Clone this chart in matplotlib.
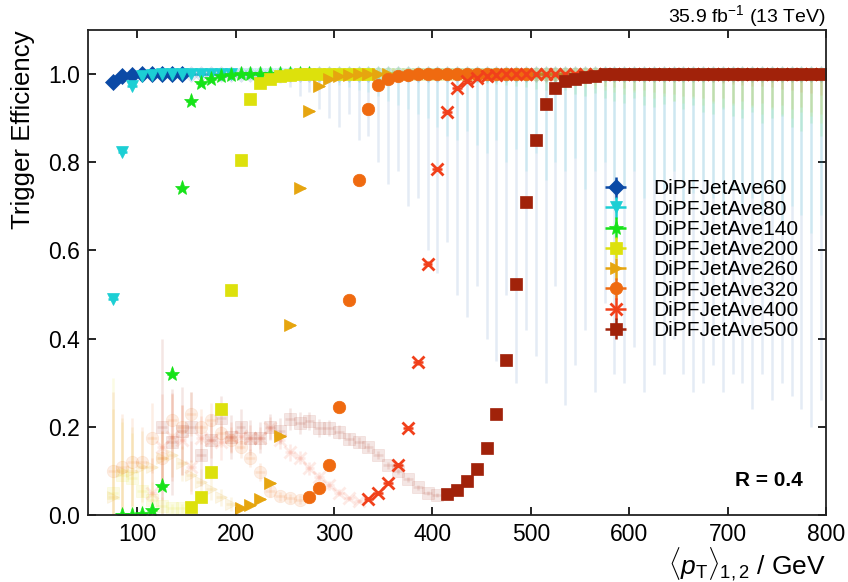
import numpy as np
import matplotlib.pyplot as plt

plt.rcParams['font.family'] = ['Liberation Sans', 'DejaVu Sans']
plt.rcParams['mathtext.fontset'] = 'custom'
plt.rcParams['mathtext.rm'] = 'Liberation Sans'
plt.rcParams['mathtext.it'] = 'Liberation Sans:italic'

# bin centres (10 GeV bins)
bins = list(range(75, 800, 10))

# ---- DiPFJetAve60 ----
x_60 = bins
eff_60 = [0.983, 0.995, 0.999] + [1.0] * 70
elo_60 = ([0.003, 0.002, 0.001, 0, 0, 0, 0, 0]
          + [0.002, 0.003, 0.004, 0.005, 0.006, 0.008, 0.01, 0.012, 0.015, 0.02,
             0.03, 0.05, 0.04, 0.08, 0.1, 0.12, 0.09, 0.15, 0.14, 0.2,
             0.25, 0.22, 0.3, 0.28, 0.4, 0.45, 0.38, 0.5, 0.55, 0.48,
             0.6, 0.65, 0.5, 0.7, 0.58, 0.64, 0.7, 0.48, 0.75, 0.66,
             0.58, 0.72, 0.52, 0.68, 0.7, 0.62, 0.72, 0.66, 0.68, 0.6,
             0.68, 0.72, 0.7, 0.66, 0.72, 0.68, 0.7, 0.76, 0.68, 0.74,
             0.7, 0.73, 0.76, 0.8, 0.74])
range_60 = (75, 145)

# ---- DiPFJetAve80 ----
x_80 = bins
eff_80 = [0.491, 0.824, 0.973, 0.995, 0.999] + [1.0] * 68
elo_80 = ([0.005, 0.004, 0.003, 0.002, 0.001, 0, 0, 0, 0, 0, 0, 0, 0]
          + [0.002, 0.003, 0.004, 0.005, 0.006, 0.008, 0.01, 0.012, 0.015, 0.02,
             0.025, 0.03, 0.035, 0.04, 0.05, 0.06, 0.07, 0.08, 0.09, 0.1,
             0.12, 0.14, 0.15, 0.13, 0.16, 0.18, 0.15, 0.2, 0.17, 0.22,
             0.18, 0.24, 0.2, 0.22, 0.19, 0.26, 0.22, 0.2, 0.24, 0.26,
             0.22, 0.28, 0.24, 0.26, 0.22, 0.3, 0.27, 0.24, 0.28, 0.32,
             0.26, 0.3, 0.28, 0.32, 0.27, 0.34, 0.3, 0.32, 0.36, 0.32])
range_80 = (75, 195)

# ---- DiPFJetAve140 ----
x_140 = bins[1:]
eff_140 = [0.0, 0.001, 0.002, 0.012, 0.066, 0.32, 0.742, 0.94, 0.98, 0.99, 0.995, 0.998] + [1.0] * 60
elo_140 = ([0.0, 0.001, 0.001, 0.002, 0.004, 0.006, 0.006, 0.004, 0.003, 0.002, 0.001, 0.001,
            0, 0, 0, 0, 0, 0, 0, 0]
           + [0.001, 0.001, 0.002, 0.002, 0.003, 0.003, 0.004, 0.005, 0.006, 0.007,
              0.008, 0.01, 0.011, 0.012, 0.014, 0.016, 0.018, 0.02, 0.022, 0.025,
              0.028, 0.03, 0.033, 0.036, 0.04, 0.035, 0.045, 0.05, 0.042, 0.055,
              0.06, 0.065, 0.055, 0.07, 0.075, 0.068, 0.06, 0.08, 0.07, 0.085,
              0.09, 0.08, 0.095, 0.1, 0.085, 0.11, 0.1, 0.095, 0.12, 0.13,
              0.11, 0.14])
range_140 = (85, 275)

# ---- DiPFJetAve200 ----
x_200 = bins
eff_200 = ([0.05, 0.09, 0.085, 0.055, 0.035, 0.02, 0.015, 0.015]
           + [0.018, 0.04, 0.097, 0.24, 0.51, 0.805, 0.943, 0.98, 0.99, 0.995, 0.998]
           + [1.0] * 54)
elo_200 = ([0.26, 0.12, 0.1, 0.06, 0.04, 0.02, 0.01, 0.01]
           + [0.002, 0.003, 0.004, 0.005, 0.006, 0.005, 0.004, 0.003, 0.002, 0.001, 0.001,
              0, 0, 0, 0, 0, 0, 0, 0]
           + [0.001, 0.001, 0.002, 0.002, 0.003, 0.003, 0.004, 0.005, 0.006, 0.007,
              0.008, 0.009, 0.01, 0.012, 0.014, 0.016, 0.018, 0.02, 0.022, 0.025,
              0.028, 0.03, 0.032, 0.035, 0.04, 0.045, 0.04, 0.05, 0.055, 0.05,
              0.06, 0.065, 0.055, 0.07, 0.065, 0.075, 0.07, 0.08, 0.075, 0.09,
              0.08, 0.09, 0.1, 0.085, 0.095, 0.11])
range_200 = (155, 335)

# ---- DiPFJetAve260 ----
x_260 = bins
eff_260 = ([0.04, 0.1, 0.1, 0.11, 0.11, 0.13, 0.136, 0.117, 0.09, 0.075, 0.06, 0.04, 0.025]
           + [0.015, 0.022, 0.036, 0.072, 0.18, 0.43, 0.742, 0.916, 0.973, 0.99, 0.995, 0.998]
           + [1.0] * 48)
elo_260 = ([0.2, 0.12, 0.1, 0.08, 0.07, 0.06, 0.05, 0.04, 0.035, 0.03, 0.025, 0.02, 0.015]
           + [0.002, 0.003, 0.003, 0.004, 0.005, 0.006, 0.005, 0.004, 0.003, 0.002, 0.001, 0.001, 0, 0, 0, 0]
           + [0.001, 0.001, 0.002, 0.002, 0.003, 0.003, 0.004, 0.004, 0.005, 0.006,
              0.007, 0.008, 0.009, 0.01, 0.012, 0.014, 0.015, 0.017, 0.02, 0.022,
              0.025, 0.027, 0.03, 0.032, 0.035, 0.037, 0.04, 0.042, 0.045, 0.05,
              0.05, 0.055, 0.06, 0.055, 0.065, 0.06, 0.07, 0.065, 0.075, 0.07,
              0.08, 0.075, 0.085, 0.09])
range_260 = (205, 355)

# ---- DiPFJetAve320 ----
x_320 = bins
eff_320 = ([0.1, 0.108, 0.12, 0.12, 0.175, 0.13, 0.215, 0.2, 0.23, 0.2,
            0.215, 0.185, 0.17, 0.155, 0.13, 0.097, 0.055, 0.042, 0.038, 0.035]
           + [0.04, 0.061, 0.113, 0.244, 0.487, 0.76, 0.921, 0.975, 0.99, 0.995, 0.998]
           + [1.0] * 42)
elo_320 = ([0.18, 0.12, 0.1, 0.08, 0.08, 0.06, 0.06, 0.05, 0.05, 0.04,
            0.04, 0.03, 0.03, 0.025, 0.02, 0.02, 0.015, 0.01, 0.01, 0.01]
           + [0.002, 0.003, 0.004, 0.005, 0.006, 0.005, 0.004, 0.003, 0.002, 0.001, 0.001] + [0] * 12
           + [0.001, 0.001, 0.002, 0.002, 0.003, 0.003, 0.004, 0.004, 0.005, 0.006,
              0.007, 0.008, 0.009, 0.01, 0.011, 0.012, 0.014, 0.015, 0.017, 0.02,
              0.022, 0.024, 0.026, 0.028, 0.03, 0.033, 0.036, 0.04, 0.043, 0.047])
range_320 = (275, 495)

# ---- DiPFJetAve400 ----
x_400 = bins[4:]
eff_400 = ([0.05, 0.155, 0.177, 0.17, 0.108, 0.175, 0.17, 0.165, 0.177, 0.18, 0.175,
            0.175, 0.197, 0.17, 0.142, 0.13, 0.106, 0.086, 0.067, 0.05, 0.038, 0.032]
           + [0.036, 0.05, 0.072, 0.113, 0.197, 0.346, 0.57, 0.785, 0.914, 0.968,
              0.984, 0.992, 0.996, 0.998]
           + [1.0] * 33)
elo_400 = ([0.08, 0.12, 0.1, 0.08, 0.06, 0.05, 0.04, 0.04, 0.035, 0.03, 0.03,
            0.025, 0.025, 0.02, 0.02, 0.015, 0.015, 0.012, 0.01, 0.008, 0.006, 0.005]
           + [0.002, 0.002, 0.003, 0.004, 0.005, 0.006, 0.006, 0.005, 0.004, 0.003,
              0.002, 0.001, 0.001, 0.001]
           + [0.0] * 33)
range_400 = (335, 795)

# ---- DiPFJetAve500 ----
x_500 = bins[5:]
eff_500 = ([0.2, 0.165, 0.19, 0.2, 0.135, 0.17, 0.22, 0.177, 0.2, 0.175, 0.175, 0.2, 0.19,
            0.217, 0.208, 0.213, 0.197, 0.197, 0.188, 0.172, 0.165, 0.154, 0.136, 0.113,
            0.1, 0.081, 0.063, 0.05, 0.045]
           + [0.047, 0.056, 0.077, 0.104, 0.152, 0.23, 0.351, 0.525, 0.71, 0.851,
              0.932, 0.968, 0.984, 0.989, 0.993, 0.996]
           + [1.0] * 23)
elo_500 = ([0.2, 0.12, 0.1, 0.08, 0.07, 0.06, 0.05, 0.05, 0.04, 0.04, 0.035, 0.03, 0.03,
            0.025, 0.025, 0.02, 0.02, 0.018, 0.016, 0.014, 0.012, 0.01, 0.01, 0.008,
            0.008, 0.006, 0.006, 0.005, 0.005]
           + [0.002, 0.002, 0.003, 0.003, 0.004, 0.005, 0.006, 0.006, 0.005, 0.004,
              0.003, 0.002, 0.002, 0.001, 0.001, 0.001]
           + [0.0] * 23)
range_500 = (415, 795)

labels = ['DiPFJetAve60', 'DiPFJetAve80', 'DiPFJetAve140', 'DiPFJetAve200',
          'DiPFJetAve260', 'DiPFJetAve320', 'DiPFJetAve400', 'DiPFJetAve500']
colors = ['#0b4aa6', '#1ccfd4', '#16e318', '#dde10c', '#e6a50f', '#ef6a10', '#f1401b', '#a1220a']
markers = ['D', 'v', '*', 's', '>', 'o', 'x', 's']
sizes = [8, 8, 11, 8, 8, 9, 9, 8]

series = [(x_60, eff_60, elo_60, range_60), (x_80, eff_80, elo_80, range_80),
          (x_140, eff_140, elo_140, range_140), (x_200, eff_200, elo_200, range_200),
          (x_260, eff_260, elo_260, range_260), (x_320, eff_320, elo_320, range_320),
          (x_400, eff_400, elo_400, range_400), (x_500, eff_500, elo_500, range_500)]

fig = plt.figure(figsize=(8.48, 5.82), dpi=100)
ax = fig.add_axes([0.1038, 0.1151, 0.8703, 0.8333])

# faint points outside each trigger's range first, then the used ranges on top
for solid_pass in (False, True):
    for (x, eff, elo, rng), lab, c, m, ms in zip(series, labels, colors, markers, sizes):
        x = np.array(x, dtype=float)
        eff = np.array(eff)
        elo = np.array(elo)
        ehi = np.minimum(elo, 1 - eff)
        inside = (x >= rng[0]) & (x <= rng[1])
        mask = inside if solid_pass else ~inside
        ax.errorbar(x[mask], eff[mask], xerr=5, yerr=[elo[mask], ehi[mask]],
                    fmt=m, color=c, ms=ms, mew=2 if m == 'x' else 0.5,
                    elinewidth=1.8, capsize=0,
                    alpha=1.0 if solid_pass else 0.11,
                    label=lab if solid_pass else None)

ax.set_xlim(50, 800)
ax.set_ylim(0, 1.1)
ax.set_xticks([100, 200, 300, 400, 500, 600, 700, 800])
ax.set_yticks([0.0, 0.2, 0.4, 0.6, 0.8, 1.0])
ax.tick_params(direction='in', top=True, right=True, length=6, width=1.2,
               labelsize=16.5, pad=6)
for s in ax.spines.values():
    s.set_linewidth(1.3)
    s.set_color('#222222')

ax.set_xlabel(r'$\langle p_\mathrm{T}\rangle_{1,2}$ / GeV', fontsize=19, loc='right', labelpad=-1)
ax.set_ylabel('Trigger Efficiency', fontsize=18.6, loc='top', labelpad=9)

ax.text(1.0, 1.017, r'35.9 fb$^{-1}$ (13 TeV)', transform=ax.transAxes,
        ha='right', va='baseline', fontsize=14)
ax.text(0.969, 0.072, 'R = 0.4', transform=ax.transAxes, ha='right', va='center',
        fontsize=15, fontweight='bold')

ax.legend(loc='upper left', bbox_to_anchor=(0.701, 0.692), frameon=False,
          fontsize=15, handlelength=1.0, handletextpad=1.3, labelspacing=0.06,
          borderpad=0, borderaxespad=0)

fig.savefig('out.png', dpi=100)
